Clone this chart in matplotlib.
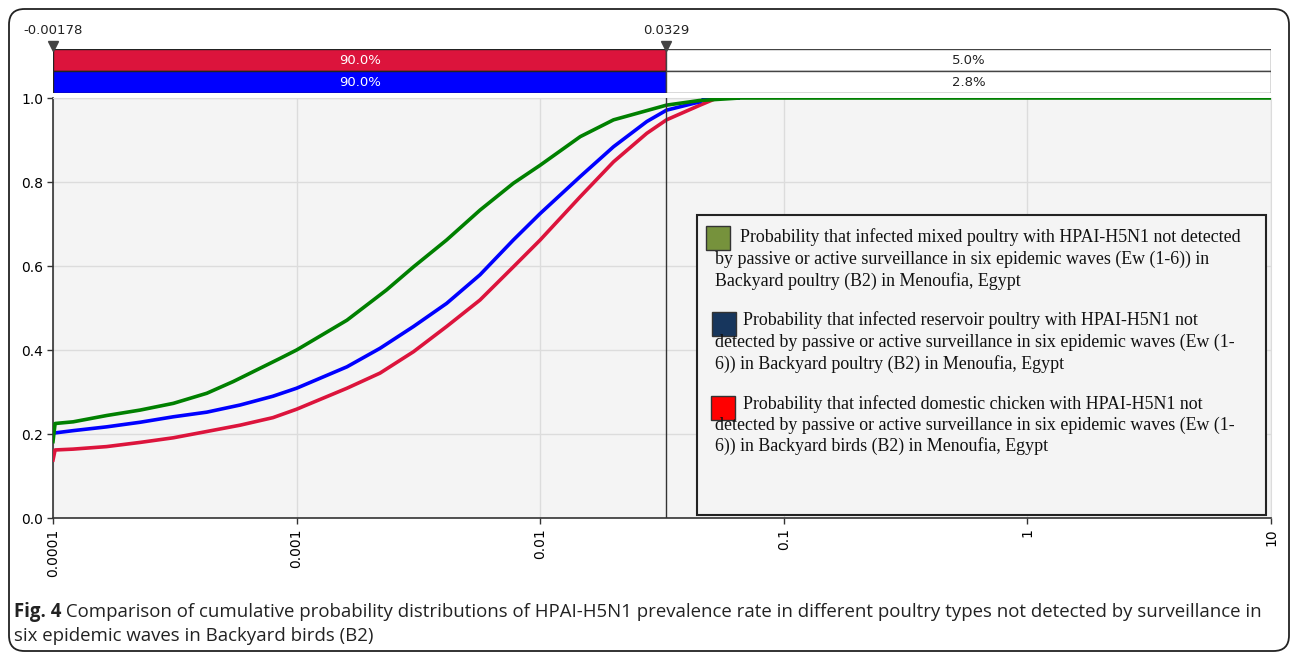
import matplotlib
matplotlib.use("Agg")
import matplotlib.pyplot as plt
from matplotlib.patches import FancyBboxPatch, Rectangle
import matplotlib.transforms as mtransforms

# ---------------- data ----------------
green_x = [1e-4, 1.02e-4, 1.21e-4, 1.66e-4, 2.28e-4, 3.12e-4, 4.28e-4, 5.5e-4, 8.55e-4, 1e-3,
           1.61e-3, 2.34e-3, 3.02e-3, 4.13e-3, 5.66e-3, 7.76e-3, 0.01, 0.0146, 0.02, 0.033,
           0.045, 0.066, 10]
green_y = [0.182, 0.225, 0.229, 0.244, 0.257, 0.273, 0.297, 0.325, 0.38, 0.40,
           0.471, 0.543, 0.598, 0.662, 0.733, 0.797, 0.84, 0.908, 0.948, 0.983,
           0.994, 1.0, 1.0]

blue_x = [1e-4, 1.21e-4, 1.66e-4, 2.28e-4, 3.12e-4, 4.28e-4, 5.86e-4, 8.0e-4, 1e-3,
          1.61e-3, 2.2e-3, 3.02e-3, 4.13e-3, 5.66e-3, 7.76e-3, 0.01, 0.0146, 0.02, 0.0274,
          0.033, 0.0453, 0.0475, 0.065]
blue_y = [0.202, 0.208, 0.217, 0.228, 0.241, 0.252, 0.269, 0.290, 0.309,
          0.36, 0.404, 0.456, 0.511, 0.579, 0.662, 0.725, 0.813, 0.884, 0.944,
          0.971, 0.991, 1.0, 1.0]

red_x = [1e-4, 1.02e-4, 1.21e-4, 1.66e-4, 2.28e-4, 3.12e-4, 4.28e-4, 5.86e-4, 8.0e-4, 1e-3,
         1.61e-3, 2.2e-3, 3.02e-3, 4.13e-3, 5.66e-3, 7.76e-3, 0.01, 0.0146, 0.02, 0.0274,
         0.033, 0.0453, 0.0532, 0.065]
red_y = [0.138, 0.162, 0.164, 0.170, 0.180, 0.191, 0.206, 0.221, 0.239, 0.259,
         0.309, 0.345, 0.396, 0.456, 0.519, 0.598, 0.662, 0.765, 0.848, 0.916,
         0.948, 0.983, 1.0, 1.0]

x_ticks = [0.0001, 0.001, 0.01, 0.1, 1, 10]
x_tick_labels = ["0.0001", "0.001", "0.01", "0.1", "1", "10"]
y_ticks = [0.0, 0.2, 0.4, 0.6, 0.8, 1.0]
y_tick_labels = ["0.0", "0.2", "0.4", "0.6", "0.8", "1.0"]

left_marker_label = "-0.00178"
right_marker = 0.0329
right_marker_label = "0.0329"
bar_rows = ["red", "blue"]
bar_inside = ["90.0%", "90.0%"]
bar_outside = ["5.0%", "2.8%"]

legend_texts = [
    ["Probability that infected mixed poultry with HPAI-H5N1 not detected",
     "by passive or active surveillance in six epidemic waves (Ew (1-6)) in",
     "Backyard poultry (B2) in Menoufia, Egypt"],
    ["Probability that infected reservoir poultry with HPAI-H5N1 not",
     "detected by passive or active surveillance in six epidemic waves (Ew (1-",
     "6)) in Backyard poultry (B2) in Menoufia, Egypt"],
    ["Probability that infected domestic chicken with HPAI-H5N1 not",
     "detected by passive or active surveillance in six epidemic waves (Ew (1-",
     "6)) in Backyard birds (B2) in Menoufia, Egypt"],
]
legend_swatch_colors = ["#76923C", "#17365D", "#FF0000"]

caption_bold = "Fig. 4"
caption_line1 = (" Comparison of cumulative probability distributions of HPAI-H5N1 prevalence rate in "
                 "different poultry types not detected by surveillance in")
caption_line2 = "six epidemic waves in Backyard birds (B2)"

# ---------------- layout ----------------
W, H = 1292, 655
fig = plt.figure(figsize=(W / 100, H / 100), dpi=100)
fig.patch.set_facecolor("white")

def fx(px):
    return px / W

def fy(py):
    return 1 - py / H

narrow = ["DejaVu Sans"]
serif = ["Liberation Serif", "DejaVu Serif"]

# outer rounded frame
frame = FancyBboxPatch((fx(9), fy(651)), fx(1289) - fx(9), fy(9) - fy(651),
                       boxstyle="round,pad=0,rounding_size=0.012",
                       transform=fig.transFigure, fill=False, edgecolor="#222222",
                       linewidth=1.3, mutation_aspect=W / H)
fig.patches.append(frame)

L, R, T, B = 53, 1271, 98, 518
ax = fig.add_axes([fx(L), fy(B), fx(R) - fx(L), fy(T) - fy(B)])
ax.set_facecolor("#F4F4F4")
ax.set_xscale("log")
ax.set_xlim(1e-4, 10)
ax.set_ylim(0, 1.0)
ax.grid(True, which="major", color="#DCDCDC", linewidth=1)
ax.set_axisbelow(True)
ax.minorticks_off()
ax.set_xticks(x_ticks)
ax.set_xticklabels(x_tick_labels, rotation=90, family=narrow, fontsize=10, va="top")
ax.set_yticks(y_ticks)
ax.set_yticklabels(y_tick_labels, family=narrow, fontsize=10)
ax.tick_params(axis="both", direction="out", length=4, width=1, color="#333333")
ax.tick_params(axis="y", pad=3)
for s in ["left", "bottom"]:
    ax.spines[s].set_color("#333333")
    ax.spines[s].set_linewidth(1.2)
for s in ["top", "right"]:
    ax.spines[s].set_color("#DCDCDC")

ax.plot(red_x, red_y, color="#DC143C", linewidth=2.6, zorder=3, solid_joinstyle="round")
ax.plot(blue_x, blue_y, color="#0000FF", linewidth=2.6, zorder=4, solid_joinstyle="round")
ax.plot(green_x, green_y, color="#008000", linewidth=2.6, zorder=5, solid_joinstyle="round")
ax.axvline(right_marker, color="#333333", linewidth=1, zorder=6)

# legend box
lg = Rectangle((fx(697), fy(515)), fx(1266) - fx(697), fy(215) - fy(515),
               transform=fig.transFigure, facecolor="#F4F4F4", edgecolor="#222222",
               linewidth=1.5, zorder=10)
fig.patches.append(lg)
sw_pos = [(706, 226), (712, 312), (711, 396)]
line_y = [[237, 259, 281], [320, 342, 364], [404, 425, 446]]
first_x = [740, 743, 743]
for i in range(3):
    sx, sy = sw_pos[i]
    sq = Rectangle((fx(sx), fy(sy + 24)), fx(24), 24 / H, transform=fig.transFigure,
                   facecolor=legend_swatch_colors[i], edgecolor="#333333", linewidth=1,
                   zorder=11)
    fig.patches.append(sq)
    for j, t in enumerate(legend_texts[i]):
        xx = first_x[i] if j == 0 else 715
        fig.text(fx(xx), fy(line_y[i][j]), t, family=serif, fontsize=12.9,
                 va="center", ha="left", color="#111111", zorder=12)

# top bar axes
bar_top, bar_bot = 49, 93
axb = fig.add_axes([fx(L), fy(bar_bot), fx(R) - fx(L), fy(bar_top) - fy(bar_bot)])
axb.set_xscale("log")
axb.set_xlim(1e-4, 10)
axb.set_ylim(0, 2)
axb.axis("off")
row_colors = {"red": "#DC143C", "blue": "#0000FF"}
for k, row in enumerate(bar_rows):
    y0 = 1 - k
    axb.barh(y0 + 0.5, right_marker - 1e-4, left=1e-4, height=1,
             color=row_colors[row], edgecolor="#222222", linewidth=1)
    axb.barh(y0 + 0.5, 10 - right_marker, left=right_marker, height=1,
             color="white", edgecolor="#444444", linewidth=1)
    axb.text((1e-4 * right_marker) ** 0.5, y0 + 0.5, bar_inside[k], color="white",
             ha="center", va="center", family=narrow, fontsize=9.5)
    axb.text((right_marker * 10) ** 0.5, y0 + 0.5, bar_outside[k], color="#222222",
             ha="center", va="center", family=narrow, fontsize=9.5)

trans = mtransforms.blended_transform_factory(axb.transAxes, axb.transData)
axb.plot([0], [2.14], marker="v", color="#444444", markersize=7, transform=trans, clip_on=False)
axb.plot([right_marker], [2.14], marker="v", color="#444444", markersize=7, clip_on=False)
axb.text(0, 2.85, left_marker_label, transform=trans, ha="center", va="center",
         family=narrow, fontsize=9.5, color="#222222")
axb.text(right_marker, 2.85, right_marker_label, ha="center", va="center",
         family=narrow, fontsize=9.5, color="#222222")

# caption
cap_font = ["Open Sans", "DejaVu Sans"]
cap_size = 13.4
t1 = fig.text(fx(14), fy(612), caption_bold, fontsize=cap_size, fontweight="bold",
              family=cap_font, va="center", ha="left", color="#222222")
fig.canvas.draw()
bb = t1.get_window_extent(renderer=fig.canvas.get_renderer())
fig.text(bb.x1 / W, fy(612), caption_line1, fontsize=cap_size, family=cap_font,
         va="center", ha="left", color="#222222")
fig.text(fx(14), fy(636), caption_line2, fontsize=cap_size, family=cap_font,
         va="center", ha="left", color="#222222")

fig.savefig("out.png", dpi=100)
